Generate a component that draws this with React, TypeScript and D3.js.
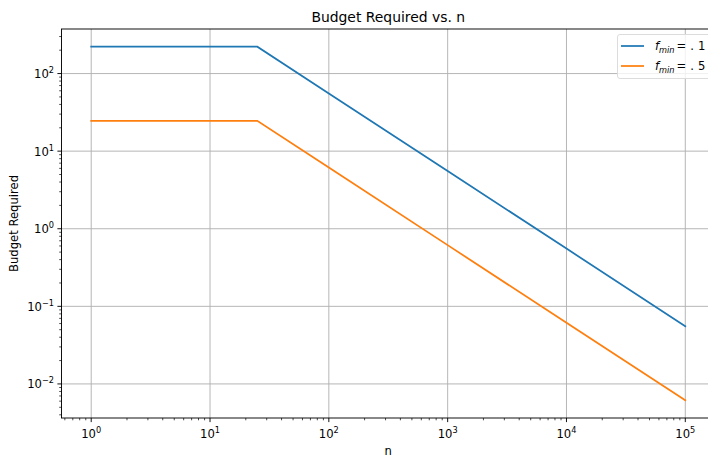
import React from "react";
import * as d3 from "d3";

// Sample sizes and required budgets for each f_min setting
const nValues = [1, 25, 100, 1000, 10000, 100000];
const budgetFmin1 = [222, 222, 55.5, 5.55, 0.555, 0.0555];
const budgetFmin5 = [24.6, 24.6, 6.15, 0.615, 0.0615, 0.00615];

const seriesLabels = [".1", ".5"];
const seriesColors = ["#1f77b4", "#ff7f0e"];

const xTickExponents = [0, 1, 2, 3, 4, 5];
const yTickExponents = [-2, -1, 0, 1, 2];

const W = 708;
const H = 457;
const FONT = "DejaVu Sans, sans-serif";

const plot = { left: 61.5, top: 29, right: 715, bottom: 418 };

function logPad(lo: number, hi: number): [number, number] {
  const a = Math.log10(lo);
  const b = Math.log10(hi);
  const m = (b - a) * 0.05;
  return [Math.pow(10, a - m), Math.pow(10, b + m)];
}

export default function App() {
  const allY = [...budgetFmin1, ...budgetFmin5];
  const x = d3
    .scaleLog()
    .domain(logPad(d3.min(nValues)!, d3.max(nValues)!))
    .range([plot.left, plot.right]);
  const y = d3
    .scaleLog()
    .domain(logPad(d3.min(allY)!, d3.max(allY)!))
    .range([plot.bottom, plot.top]);

  const line = d3
    .line<[number, number]>()
    .x((d) => x(d[0]))
    .y((d) => y(d[1]));

  const series = [budgetFmin1, budgetFmin5].map((vals) =>
    nValues.map((n, i) => [n, vals[i]] as [number, number])
  );

  const minorTicks = (scale: d3.ScaleLogarithmic<number, number>) => {
    const [lo, hi] = scale.domain();
    const out: number[] = [];
    for (let e = Math.floor(Math.log10(lo)); e <= Math.ceil(Math.log10(hi)); e++) {
      for (let k = 2; k <= 9; k++) {
        const v = k * Math.pow(10, e);
        if (v >= lo && v <= hi) out.push(v);
      }
    }
    return out;
  };

  const expLabel = (e: number) => (e < 0 ? "\u2212" + Math.abs(e) : String(e));
  const tickColor = "#000";

  return (
    <svg width={W} height={H} style={{ position: "absolute", left: 0, top: 0, background: "#fff" }}>
      <defs>
        <clipPath id="plotClip">
          <rect x={plot.left} y={plot.top} width={plot.right - plot.left} height={plot.bottom - plot.top} />
        </clipPath>
      </defs>
      <rect x={0} y={0} width={W} height={H} fill="#fff" />

      {/* grid */}
      <g stroke="#b0b0b0" strokeWidth={0.93}>
        {xTickExponents.map((e) => (
          <line key={"gx" + e} x1={x(Math.pow(10, e))} x2={x(Math.pow(10, e))} y1={plot.top} y2={plot.bottom} />
        ))}
        {yTickExponents.map((e) => (
          <line key={"gy" + e} x1={plot.left} x2={plot.right} y1={y(Math.pow(10, e))} y2={y(Math.pow(10, e))} />
        ))}
      </g>

      {/* series */}
      <g clipPath="url(#plotClip)">
        {series.map((s, i) => (
          <path key={i} d={line(s) || ""} fill="none" stroke={seriesColors[i]} strokeWidth={1.74} strokeLinecap="square" />
        ))}
      </g>

      {/* spines */}
      <rect
        x={plot.left}
        y={plot.top}
        width={plot.right - plot.left}
        height={plot.bottom - plot.top}
        fill="none"
        stroke="#000"
        strokeWidth={0.93}
      />

      {/* ticks */}
      <g stroke={tickColor} strokeWidth={0.93}>
        {xTickExponents.map((e) => (
          <line key={"xt" + e} x1={x(Math.pow(10, e))} x2={x(Math.pow(10, e))} y1={plot.bottom} y2={plot.bottom + 4.1} />
        ))}
        {minorTicks(x).map((v) => (
          <line key={"xm" + v} x1={x(v)} x2={x(v)} y1={plot.bottom} y2={plot.bottom + 2.3} strokeWidth={0.7} />
        ))}
        {yTickExponents.map((e) => (
          <line key={"yt" + e} x1={plot.left - 4.1} x2={plot.left} y1={y(Math.pow(10, e))} y2={y(Math.pow(10, e))} />
        ))}
        {minorTicks(y).map((v) => (
          <line key={"ym" + v} x1={plot.left - 2.3} x2={plot.left} y1={y(v)} y2={y(v)} strokeWidth={0.7} />
        ))}
      </g>

      {/* tick labels */}
      <g fontFamily={FONT} fontSize={11.6} fill="#000">
        {xTickExponents.map((e) => (
          <text key={"xl" + e} x={x(Math.pow(10, e))} y={plot.bottom + 20} textAnchor="middle">
            10
            <tspan fontSize={8.2} dy={-5}>
              {expLabel(e)}
            </tspan>
          </text>
        ))}
        {yTickExponents.map((e) => (
          <text key={"yl" + e} x={plot.left - 7.5} y={y(Math.pow(10, e)) + 4.5} textAnchor="end">
            10
            <tspan fontSize={8.2} dy={-5}>
              {expLabel(e)}
            </tspan>
          </text>
        ))}
      </g>

      {/* title and axis labels */}
      <text x={(plot.left + plot.right) / 2} y={22} textAnchor="middle" fontFamily={FONT} fontSize={13.9}>
        Budget Required vs. n
      </text>
      <text x={(plot.left + plot.right) / 2} y={455} textAnchor="middle" fontFamily={FONT} fontSize={11.6}>
        n
      </text>
      <text
        transform={`translate(18,${(plot.top + plot.bottom) / 2}) rotate(-90)`}
        textAnchor="middle"
        fontFamily={FONT}
        fontSize={11.6}
      >
        Budget Required
      </text>

      {/* legend */}
      <g>
        <rect x={617.5} y={34.5} width={100} height={44} rx={2.5} fill="#fff" fillOpacity={0.8} stroke="#d9d9d9" strokeWidth={0.93} />
        {seriesLabels.map((lab, i) => {
          const cy = 46 + i * 20;
          return (
            <g key={"lg" + i}>
              <line x1={621} x2={644} y1={cy} y2={cy} stroke={seriesColors[i]} strokeWidth={1.74} />
              <text x={655} y={cy + 4} fontFamily={FONT} fontSize={11.6} fill="#000">
                <tspan fontStyle="italic">f</tspan>
                <tspan fontStyle="italic" fontSize={8.2} dy={2.5}>
                  min
                </tspan>
                <tspan dy={-2.5} dx={2}>
                  =
                </tspan>
                <tspan dx={4}>.</tspan>
                <tspan dx={4}>{lab.slice(1)}</tspan>
              </text>
            </g>
          );
        })}
      </g>
    </svg>
  );
}
